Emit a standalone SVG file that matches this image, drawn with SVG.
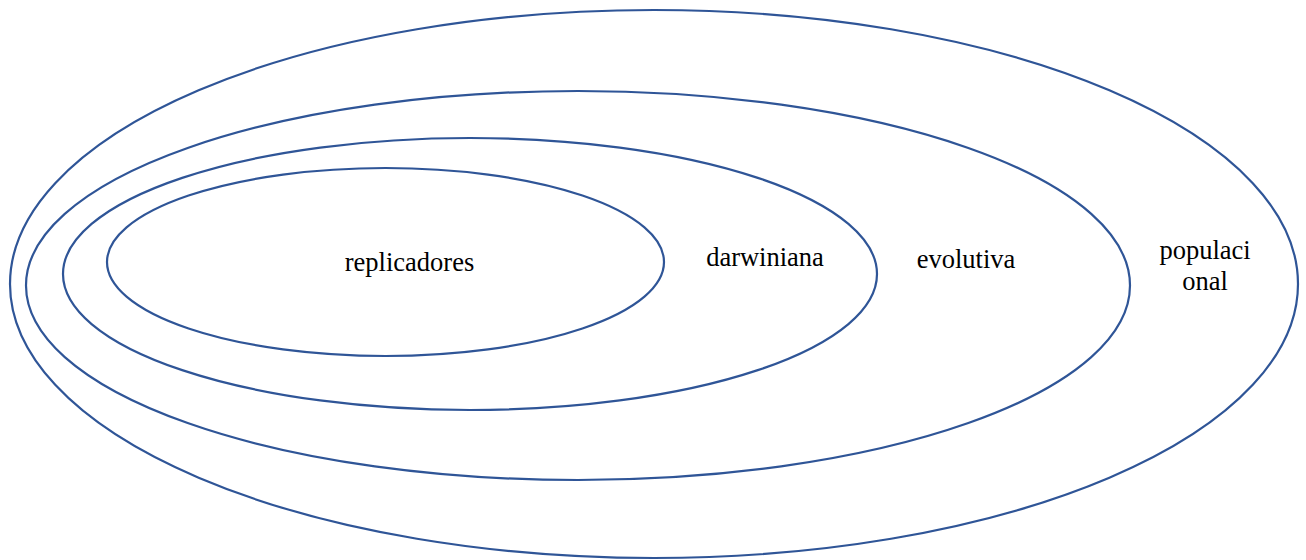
<svg xmlns="http://www.w3.org/2000/svg" width="1306" height="560" viewBox="0 0 1306 560">
<style>
.e{fill:none;stroke:#2F5597;stroke-width:2.2}
.t{font-family:'Liberation Serif','Times New Roman',Times,serif;font-size:26.5px;fill:#000;text-anchor:middle}
</style>
<rect width="1306" height="560" fill="#fff"/>
<g id="poblacional">
<ellipse class="e" cx="654" cy="284" rx="644" ry="274"/>
<text class="t" x="1205" y="259">populaci</text>
<text class="t" x="1205" y="290">onal</text>
</g>
<g id="evolutiva">
<ellipse class="e" cx="578" cy="285.5" rx="552" ry="194.5"/>
<text class="t" x="966" y="268">evolutiva</text>
</g>
<g id="darwiniana">
<ellipse class="e" cx="470" cy="274" rx="407" ry="136"/>
<text class="t" x="765" y="266">darwiniana</text>
</g>
<g id="replicadores">
<ellipse class="e" cx="385.5" cy="262" rx="278.5" ry="94"/>
<text class="t" x="409.5" y="271">replicadores</text>
</g>
<g id="connectors"/>
</svg>
